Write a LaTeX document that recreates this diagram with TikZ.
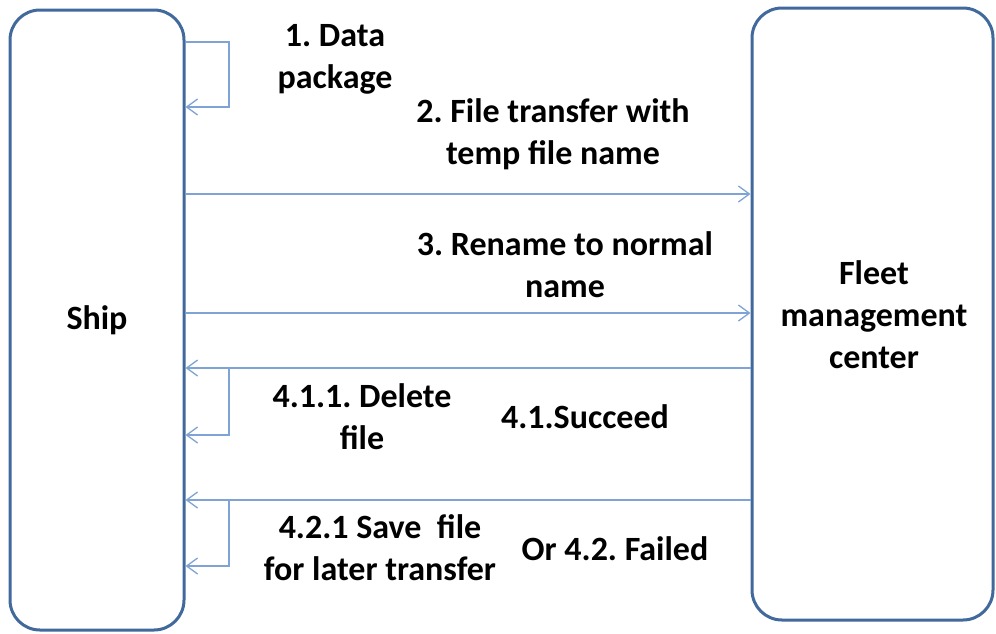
\documentclass[tikz,border=0pt]{standalone}
\usepackage{fontspec}
\setmainfont{Carlito}
\usetikzlibrary{arrows.meta}
\frenchspacing
\definecolor{boxblue}{HTML}{41699C}
\definecolor{arrblue}{HTML}{7FA3D4}
\tikzset{
  box/.style={draw=boxblue, line width=3pt, rounded corners=30pt, fill=white, inner sep=0pt},
  arr/.style={draw=arrblue, line width=1.5pt, -{Straight Barb[length=11pt,width=16pt,line width=1.3pt]}},
  lbl/.style={font=\bfseries\fontsize{34}{42}\selectfont, align=center, inner sep=0pt}
}
\begin{document}
\begin{tikzpicture}[x=1pt,y=-1pt]
\useasboundingbox (0,0) rectangle (996,633);
\node[box, minimum width=174pt, minimum height=620pt] (ship) at (97,320) {};
\node[box, minimum width=241pt, minimum height=612pt] (fleet) at (872.5,314) {};
\node[lbl] (shipt) at (97,320) {Ship};
\node[lbl] (fleett) at (874,315) {Fleet\\management\\center};
% levels
\coordinate (y1a) at (0,42);
\coordinate (y1b) at (0,107);
\coordinate (y2) at (0,194);
\coordinate (y3) at (0,313);
\coordinate (y41) at (0,368);
\coordinate (y411) at (0,435);
\coordinate (y42) at (0,500);
\coordinate (y421) at (0,566);
\coordinate (xl) at (229,0);
% step 1 loop
\draw[arr] (ship.east |- y1a) -- (xl |- y1a) -- (xl |- y1b) -- (ship.east |- y1b);
% step 2, 3
\draw[arr] (ship.east |- y2) -- (fleet.west |- y2);
\draw[arr] (ship.east |- y3) -- (fleet.west |- y3);
% step 4.1
\draw[arr] (fleet.west |- y41) -- (ship.east |- y41);
\draw[arr] (xl |- y41) -- (xl |- y411) -- (ship.east |- y411);
% step 4.2
\draw[arr] (fleet.west |- y42) -- (ship.east |- y42);
\draw[arr] (xl |- y42) -- (xl |- y421) -- (ship.east |- y421);
% labels
\node[lbl] (l1) at (335,59) {1. Data\\package};
\node[lbl] (l2) at (553,134) {2. File transfer with\\temp file name};
\node[lbl] (l3) at (565,265) {3. Rename to normal\\name};
\node[lbl] (l411) at (362,417) {4.1.1. Delete\\file};
\node[lbl] (l41) at (585,417) {4.1.Succeed};
\node[lbl] (l421) at (380,548) {4.2.1 Save~ file\\for later transfer};
\node[lbl] (l42) at (615,549) {Or 4.2. Failed};
\end{tikzpicture}
\end{document}
